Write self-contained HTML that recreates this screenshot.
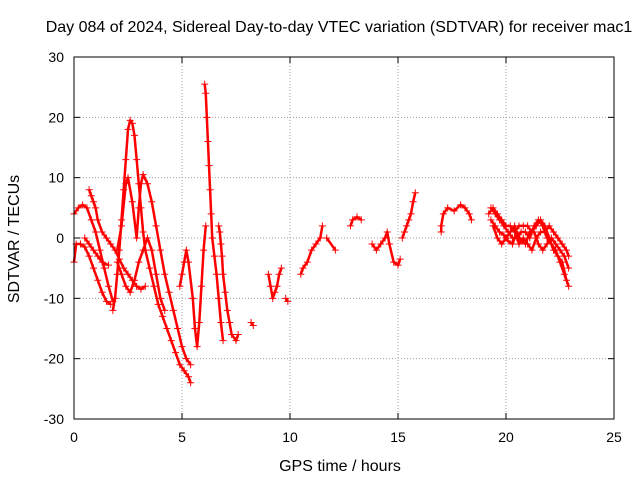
<!DOCTYPE html>
<html><head><meta charset="utf-8">
<style>
body{margin:0;background:#fff;}
svg{display:block;font-family:"Liberation Sans",sans-serif;}
</style></head>
<body>
<svg id="chart" width="640" height="480" viewBox="0 0 640 480">
<text x="339" y="32" font-size="16" text-anchor="middle">Day 084 of 2024, Sidereal Day-to-day VTEC variation (SDTVAR) for receiver mac1</text>
<text x="340" y="471" font-size="16" text-anchor="middle">GPS time / hours</text>
<text transform="translate(19,239) rotate(-90)" font-size="16" text-anchor="middle">SDTVAR / TECUs</text>
<g id="grid"></g>
<g id="ticks"></g>
<g id="marks"></g>
<rect x="74" y="57" width="540" height="362" fill="none" stroke="#000" stroke-width="1"/>
</svg>
<script>
const xTicks=[0,5,10,15,20,25];
const yTicks=[-30,-20,-10,0,10,20,30];
const trackA=[[0,4],[0.2,5],[0.4,5.5],[0.6,5],[0.8,3],[1.0,1],[1.2,-2],[1.4,-5],[1.6,-8],[1.8,-10.5]];
const trackB=[[0,-4],[0.1,-1],[0.3,-1],[0.5,-1.5],[0.7,-3],[0.9,-5],[1.1,-7],[1.3,-9],[1.5,-10.5],[1.7,-11]];
const trackC=[[0.5,0],[0.7,-1],[0.9,-2],[1.1,-3],[1.3,-4],[1.6,-4.5]];
const trackD=[[0.7,8],[0.8,7],[0.9,6],[1.0,5],[1.1,3],[1.3,1],[1.5,0],[1.7,-1],[1.9,-2],[2.1,-3.5],[2.3,-5],[2.5,-6],[2.7,-7],[2.9,-8],[3.1,-8.5],[3.3,-8]];
const trackE=[[1.8,-12],[1.9,-10],[2.0,-6],[2.1,-2],[2.2,3],[2.3,8],[2.4,13],[2.5,18],[2.6,19.5],[2.7,19],[2.8,17],[2.9,13],[3.0,9],[3.1,5],[3.2,1],[3.3,-2],[3.5,-5],[3.7,-8],[3.9,-11],[4.1,-13],[4.3,-15],[4.5,-17],[4.7,-19],[4.9,-21],[5.1,-22],[5.3,-23],[5.4,-24]];
const trackF=[[2.0,-2],[2.2,2],[2.4,9],[2.5,10],[2.7,6],[2.9,0],[3.0,5],[3.1,9],[3.2,10.5],[3.4,9],[3.6,6],[3.8,2],[4.0,-2],[4.2,-6],[4.4,-9],[4.6,-12],[4.8,-15],[5.0,-18],[5.2,-20],[5.4,-21]];
const trackG=[[2.0,-4],[2.2,-6],[2.4,-8],[2.6,-9],[2.8,-7],[3.0,-4],[3.2,-2],[3.4,0],[3.6,-2],[3.8,-6],[4.0,-10],[4.2,-12]];
const trackH=[[4.9,-8],[5.0,-6],[5.1,-4],[5.2,-2],[5.3,-4],[5.5,-10],[5.6,-15],[5.7,-18],[5.8,-14],[5.9,-8],[6.0,-2],[6.1,2]];
const trackI=[[6.05,25.5],[6.1,24],[6.15,20],[6.2,16],[6.25,12],[6.3,8],[6.35,4],[6.4,0],[6.5,-3],[6.6,-6],[6.7,-10],[6.8,-14],[6.9,-17]];
const trackJ=[[6.7,2],[6.75,1],[6.8,-1],[6.85,-3],[6.9,-6],[7.0,-9],[7.1,-12],[7.2,-14],[7.3,-16],[7.5,-17],[7.6,-16]];
const trackK=[[8.2,-14],[8.3,-14.5]];
const trackL=[[9.0,-6],[9.1,-8],[9.2,-10],[9.3,-9],[9.4,-8],[9.5,-6],[9.6,-5]];
const trackM=[[9.8,-10],[9.9,-10.5]];
const trackN=[[10.5,-6],[10.6,-5],[10.8,-4],[11.0,-2],[11.2,-1],[11.4,0],[11.5,2]];
const trackO=[[11.7,0],[12.1,-2]];
const trackP=[[12.8,2],[12.9,3],[13.1,3.5],[13.3,3]];
const trackQ=[[13.8,-1],[14.0,-2],[14.2,-1],[14.4,0],[14.5,1],[14.6,-1],[14.8,-4],[15.0,-4.5],[15.1,-3.5]];
const trackR=[[15.2,0],[15.3,1],[15.4,2],[15.5,3],[15.6,4],[15.7,6],[15.8,7.5]];
const trackS=[[17.0,1],[17.0,2],[17.1,4],[17.3,5],[17.6,4.5],[17.9,5.5],[18.1,5],[18.3,4],[18.4,3]];
const trackT=[[19.3,5],[19.5,4],[19.7,3],[19.9,2],[20.1,1],[20.3,0],[20.5,0],[20.7,1],[20.9,1],[21.1,0],[21.3,2],[21.5,3],[21.7,2],[21.9,0],[22.1,-1],[22.3,-2],[22.5,-4],[22.7,-6],[22.9,-8]];
const trackU=[[19.4,2],[19.6,0],[19.8,-1],[20.0,0],[20.2,1],[20.4,2],[20.6,-1],[20.8,0],[21.0,-1],[21.2,-2],[21.4,0],[21.6,1],[21.8,1],[22.0,2],[22.2,1],[22.4,0],[22.6,-1],[22.8,-2],[22.9,-3]];
const trackV=[[19.3,3],[19.5,2],[19.7,1],[19.9,0.5],[20.1,-0.5],[20.3,-1],[20.5,1],[20.7,-0.5],[20.9,-1],[21.1,1],[21.3,1],[21.5,-1],[21.7,-2],[21.9,-1],[22.1,0],[22.3,-1],[22.5,-2],[22.7,-3],[22.9,-5]];
const trackW=[[19.2,4],[19.4,5],[19.6,4],[19.8,3],[20.0,2],[20.2,2],[20.4,1],[20.6,2],[20.8,2],[21.0,2],[21.2,1],[21.4,2],[21.6,3],[21.8,2],[22.0,0],[22.2,-2],[22.4,-3],[22.6,-4],[22.8,-7]];
const tracks=[trackA,trackB,trackC,trackD,trackE,trackF,trackG,trackH,trackI,trackJ,trackK,trackL,trackM,trackN,trackO,trackP,trackQ,trackR,trackS,trackT,trackU,trackV,trackW];

const NS='http://www.w3.org/2000/svg';
const X=v=>74+v*(540/25);
const Y=v=>238-v*(362/60);
function mk(tag,attrs,parent){const e=document.createElementNS(NS,tag);for(const k in attrs)e.setAttribute(k,attrs[k]);parent.appendChild(e);return e;}
const grid=document.getElementById('grid'),ticks=document.getElementById('ticks'),marks=document.getElementById('marks');
xTicks.forEach(t=>{
  const x=X(t);
  if(t>0&&t<25){const g=mk('line',{x1:x,y1:57,x2:x,y2:419,stroke:'#a0a0a0','stroke-dasharray':'1,2'},grid);
  
  }
  mk('line',{x1:x,y1:419,x2:x,y2:413,stroke:'#000'},ticks);
  mk('line',{x1:x,y1:57,x2:x,y2:63,stroke:'#000'},ticks);
  const tx=mk('text',{x:x,y:442,'font-size':14,'text-anchor':'middle'},ticks);
  tx.textContent=t;
  
  
});
yTicks.forEach(t=>{
  const y=Y(t);
  if(t>-30&&t<30){const g=mk('line',{x1:74,y1:y,x2:614,y2:y,stroke:'#a0a0a0','stroke-dasharray':'1,2'},grid);
  
  }
  mk('line',{x1:74,y1:y,x2:80,y2:y,stroke:'#000'},ticks);
  mk('line',{x1:608,y1:y,x2:614,y2:y,stroke:'#000'},ticks);
  const tx=mk('text',{x:64,y:y+5,'font-size':14,'text-anchor':'end'},ticks);
  tx.textContent=t;
  
  
});
tracks.forEach(tr=>{
  const pl=mk('polyline',{points:tr.map(p=>X(p[0])+','+Y(p[1])).join(' '),fill:'none',stroke:'#ff0000','stroke-width':2.5,'stroke-linejoin':'round'},marks);
  
  
  tr.forEach(p=>{
    const x=X(p[0]),y=Y(p[1]);
    const m=mk('path',{d:`M${x-3.5},${y}H${x+3.5}M${x},${y-3.5}V${y+3.5}`,stroke:'#ff0000','stroke-width':1},marks);
    
    
  });
});
</script>
</body></html>
